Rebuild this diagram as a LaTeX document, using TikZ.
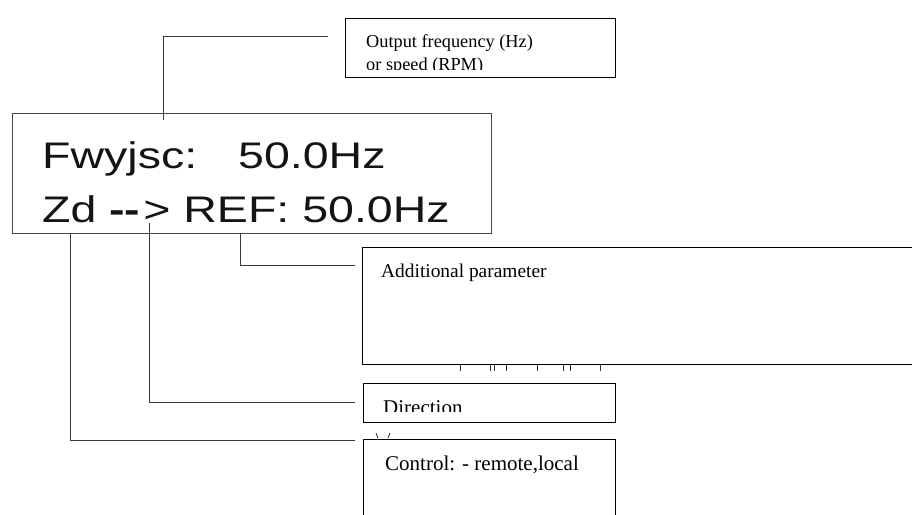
\documentclass[tikz,border=0pt]{standalone}
\usepackage{fontspec}
\setmainfont{Liberation Serif}
\newfontfamily\lcdfont[FakeStretch=1.257]{Liberation Sans}
\begin{document}
\begin{tikzpicture}[x=1pt,y=-1pt]
\useasboundingbox (0,0) rectangle (912,514);
\tikzset{
  panel/.style={draw=black!72, line width=1.4pt},
  callbox/.style={draw=black, line width=1.1pt, fill=white, anchor=north west, inner sep=0pt},
  leader/.style={draw=black!78, line width=0.9pt},
  lcd/.style={font=\lcdfont\fontsize{37}{40}\selectfont, anchor=base west, inner sep=0pt, text=black!92},
  lbl/.style={anchor=base west, inner sep=0pt},
  remnant/.style={draw=black!80, line width=0.9pt}
}

% display panel
\node (panel) [panel, anchor=north west, minimum width=479pt, minimum height=120pt, inner sep=0pt] at (12,113) {};
\node (row1) [lcd] at (42,168) {Fwyjsc:\hspace{41pt}50.0Hz};
\node (row2) [lcd] at (42,222) {Zd {\bfseries -{}-}\hspace{3pt}> REF: 50.0Hz};

% leader anchor points on the panel
\coordinate (pOut) at (163,120);
\coordinate (pAdd) at (240,233);
\coordinate (pDir) at (149,223);
\coordinate (pCtl) at (70,233);

% free ends of the leaders, next to the call-out boxes
\coordinate (eOut) at (328,36);
\coordinate (eAdd) at (355,265);
\coordinate (eDir) at (355,402);
\coordinate (eCtl) at (355,440);

% text fragments peeking out below the boxes
\foreach \x in {460,490,494,506,537,563,570,600}
  \draw[remnant] (\x,365) -- (\x,371);
\draw[remnant] (376,433) -- (378,438);
\draw[remnant] (390,433) -- (388,438);

% call-out boxes
\node (out) [callbox, minimum width=270pt, minimum height=59pt] at (345,18) {};
\begin{scope}
  \clip (345,18) rectangle (615,69);
  \node [lbl, font=\fontsize{18.3}{20}\selectfont] at (366,47) {Output frequency (Hz)};
  \node [lbl, font=\fontsize{18.3}{20}\selectfont] at (366,70) {or speed (RPM)};
\end{scope}

\node (add) [callbox, minimum width=570pt, minimum height=117pt] at (362,247) {};
\node [lbl, font=\fontsize{19.4}{22}\selectfont] at (381,277) {Additional parameter};

\node (dir) [callbox, minimum width=252pt, minimum height=39pt] at (363,383) {};
\begin{scope}
  \clip (363,383) rectangle (615,411.5);
  \node [lbl, font=\fontsize{21}{24}\selectfont] at (383,414) {Direction};
\end{scope}

\node (ctl) [callbox, minimum width=252pt, minimum height=90pt] at (363,439) {};
\node [lbl, font=\fontsize{21}{24}\selectfont] at (385,470) {Control: - remote,local};

% leaders
\draw[leader] (pOut) |- (eOut);
\draw[leader] (pAdd) |- (eAdd);
\draw[leader] (pDir) |- (eDir);
\draw[leader] (pCtl) |- (eCtl);
\end{tikzpicture}
\end{document}
